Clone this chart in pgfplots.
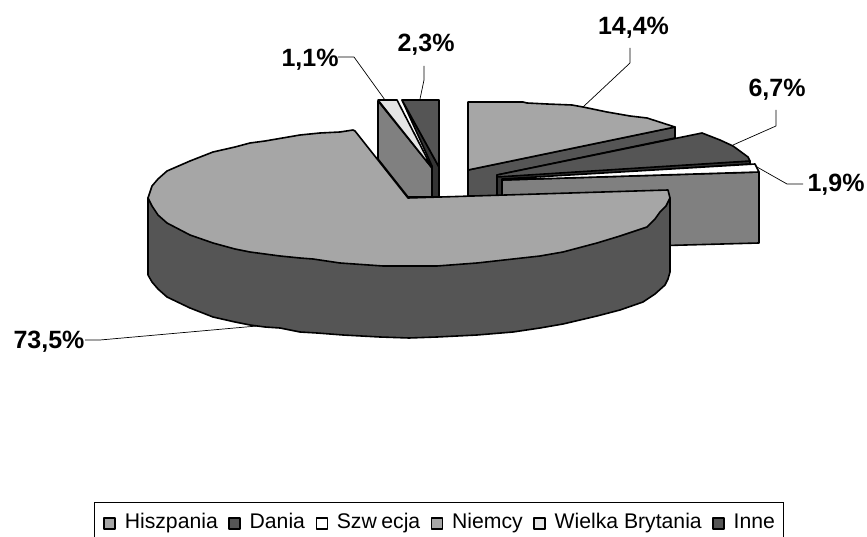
\documentclass[border=0pt]{standalone}
\usepackage{fontspec}
\setmainfont{Liberation Sans}
\usepackage{pgfplots}
\pgfplotsset{compat=1.18}
\definecolor{cTop}{HTML}{A6A6A6}
\definecolor{cDark}{HTML}{555555}
\definecolor{cMid}{HTML}{808080}
\definecolor{cLight}{HTML}{E4E4E4}
\definecolor{cDeep}{HTML}{333333}
\begin{document}
\begin{tikzpicture}
\useasboundingbox (0,0) rectangle (867pt,537pt);
\begin{axis}[
  x=1pt,y=1pt,y dir=reverse,xmin=0,xmax=867,ymin=0,ymax=537,
  hide axis,clip=false,
  legend columns=6,
  legend image code/.code={\draw[#1,line width=1.3pt] (0pt,-5.5pt) rectangle (11pt,5.5pt);},
  legend style={at={(axis cs:94,501.5)},anchor=north west,draw=black,line width=0.9pt,
    font=\fontsize{21.2}{25}\selectfont,inner xsep=9pt,inner ysep=9.5pt,
    nodes={inner xsep=0pt,inner ysep=2pt},
    /tikz/every odd column/.append style={column sep=9pt},
    /tikz/every even column/.append style={column sep=10.5pt,nodes={text height=15pt,text depth=5pt}}},
  every axis plot/.append style={forget plot,mark=none,line join=round,line width=1.6pt,draw=black},
]
% Hiszpania
\addplot[fill=cDark] coordinates {(468,170)(675,127)(675,138)(497,175)(497,196)(468,196)} -- cycle;
\addplot[fill=cTop] coordinates {(468,102)(523,102)(527,103)(547,104)(572,105)(583,107)(607,112)(630,116)(647,118)(675,127)(468,170)} -- cycle;
% Dania
\addplot[fill=cDeep] coordinates {(497,176)(750,161)(750,164)(502,180)(502,196)(497,196)} -- cycle;
\addplot[fill=cDark] coordinates {(497,175)(702,133)(720,140)(733,146)(748,157)(750,161)(497,177)} -- cycle;
% Szwecja
\addplot[fill=cMid] coordinates {(502,180)(759,172)(759,243)(502,250)} -- cycle;
\addplot[fill=white] coordinates {(502,179)(755,164)(759,172)(502,180)} -- cycle;
% Wielka Brytania
\addplot[fill=cMid] coordinates {(378,101)(432,168)(432,197)(408,197)(378,159)} -- cycle;
\addplot[fill=cLight] coordinates {(378,100)(397,100)(432,168)} -- cycle;
% Inne
\addplot[fill=cDeep] coordinates {(402,100)(432,166)(432,197)(439,197)(439,167)} -- cycle;
\addplot[fill=cDark] coordinates {(402,100)(439,100)(439,167)} -- cycle;
% Niemcy
\addplot[fill=cDark] coordinates {(148,198)(148,275)(152,282)(158,289)(167,297)(190,308)(213,317)(235,322)(250,325)(265,327)(280,328)(300,332)(317,333)(343,335)(380,337)(409,338)(437,337)(477,335)(513,332)(540,328)(563,324)(597,316)(620,310)(643,302)(655,294)(665,285)(668,279)(670,272)(670,198)} -- cycle;
\addplot[fill=cTop] coordinates {(408,198)(355,131)(353,130)(340,132)(320,133)(300,135)(265,141)(250,143)(235,147)(213,152)(190,161)(167,171)(158,179)(152,186)(148,198)(152,206)(158,215)(167,223)(190,235)(213,243)(235,249)(250,252)(265,254)(280,256)(300,258)(313,259)(340,263)(383,266)(409,266)(437,266)(477,263)(513,259)(540,256)(563,252)(597,243)(620,236)(647,227)(655,219)(660,212)(666,206)(670,198)(668,190)} -- cycle;
% Leaders
\addplot[line width=0.7pt] coordinates {(338,57)(354,57)(385,100)};
\addplot[line width=0.7pt] coordinates {(424,66)(424,80)(420,99)};
\addplot[line width=0.7pt] coordinates {(630,48)(630,63)(583,107)};
\addplot[line width=0.7pt] coordinates {(776,110)(776,126)(733,145)};
\addplot[line width=0.7pt] coordinates {(803,184)(787,184)(757,167)};
\addplot[line width=0.7pt] coordinates {(85,340)(100,340)(257,326)};
% Labels
\begin{scope}[every node/.style={font=\fontsize{25}{28}\selectfont\bfseries,anchor=base,inner sep=0pt}]
\node at (axis cs:310,67) {1,1\%};
\node at (axis cs:426,52) {2,3\%};
\node at (axis cs:633.5,35) {14,4\%};
\node at (axis cs:777,97) {6,7\%};
\node at (axis cs:836,192) {1,9\%};
\node at (axis cs:49,348) {73,5\%};
\end{scope}
% Legend
\addlegendimage{fill=cTop}\addlegendentry{Hiszpania}
\addlegendimage{fill=cDark}\addlegendentry{Dania}
\addlegendimage{fill=white}\addlegendentry{Szw\kern4.5pt ecja}
\addlegendimage{fill=cTop}\addlegendentry{Niemcy}
\addlegendimage{fill=cLight}\addlegendentry{Wielka Brytania}
\addlegendimage{fill=cDark}\addlegendentry{Inne}
\end{axis}
\end{tikzpicture}
\end{document}
